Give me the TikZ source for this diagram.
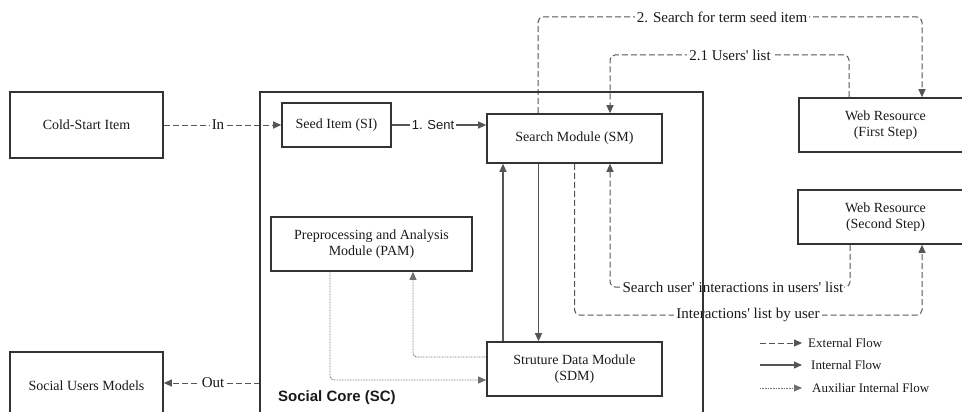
\documentclass[tikz,border=0pt]{standalone}
\usepackage{fontspec}
\setmainfont{Liberation Serif}[Ligatures=TeXOff]
\setsansfont{Liberation Sans}[Ligatures=TeXOff]
\usetikzlibrary{arrows.meta}
\definecolor{boxc}{HTML}{333333}
\definecolor{linec}{HTML}{555555}
\definecolor{txtc}{HTML}{1A1A1A}
\tikzset{
  mod/.style={draw=boxc, line width=1.6pt, rectangle, align=center, text=txtc,
    font=\fontsize{14}{15.5}\selectfont, inner sep=0pt},
  tip/.style={-{Triangle[length=8pt,width=7pt]}},
  ext/.style={draw=linec, line width=1pt, dash pattern=on 6pt off 3pt, rounded corners=5pt, tip},
  int/.style={draw=linec, line width=1.1pt, tip},
  aux/.style={draw=linec!85, line width=0.9pt, dash pattern=on 0.8pt off 0.8pt, rounded corners=4pt, tip},
  lbl/.style={fill=white, text=txtc, inner sep=2pt, font=\fontsize{15}{16}\selectfont},
  lgd/.style={anchor=west, text=txtc, inner sep=0pt, font=\fontsize{13}{14}\selectfont},
}
\begin{document}
\begin{tikzpicture}[x=1pt,y=-1pt]
\useasboundingbox (0,0) rectangle (962,412);
\clip (0,0) rectangle (962,412);
% nodes
\node[mod, minimum width=153pt, minimum height=66pt] (cold) at (86.5,125) {Cold-Start Item};
\node[mod, minimum width=153pt, minimum height=68pt] (sumod) at (86.5,386) {Social Users Models};
\node[mod, minimum width=109pt, minimum height=44pt] (si) at (336.5,125) {Seed Item (SI)};
\node[mod, minimum width=175pt, minimum height=49pt] (sm) at (574.5,138.5) {Search Module (SM)};
\node[mod, minimum width=173pt, minimum height=54pt] (wr1) at (885.5,125) {Web Resource\\(First Step)};
\node[mod, minimum width=175pt, minimum height=54pt] (wr2) at (885.5,217) {Web Resource\\(Second Step)};
\node[mod, minimum width=201pt, minimum height=54pt] (pam) at (371.5,244) {Preprocessing and Analysis\\Module (PAM)};
\node[mod, minimum width=175pt, minimum height=54pt] (sdm) at (574.5,369) {Struture Data Module\\(SDM)};
\node[inner sep=0pt, minimum width=443pt, minimum height=333pt] (sc) at (481.5,258.5) {};
\node[anchor=south west, inner sep=0pt, text=txtc, font=\sffamily\bfseries\fontsize{15}{16}\selectfont] (sclbl) at (278,405) {Social Core (SC)};
% coordinates for routes
\coordinate (top1) at (722,17);
\coordinate (top2) at (730,55);
\coordinate (bot1) at (748,315);
\coordinate (bot2) at (733,287);
% connectors
\draw[ext] (cold.east) -- (si.west);
\node[lbl] (lin) at (218,125) {In};
\draw[int] (si.east) -- (si.east -| sm.west);
\node[lbl, font=\sffamily\fontsize{13}{14}\selectfont] (lsent) at (433,125) {1. Sent};
\draw[ext] ([xshift=-36.5pt]sm.north) |- (top1) -| ([xshift=36.5pt]wr1.north);
\node[lbl] (l2) at (top1) {2. Search for term seed item};
\draw[ext] ([xshift=-36.5pt]wr1.north) |- (top2) -| ([xshift=35.5pt]sm.north);
\node[lbl] (l21) at (top2) {2.1 Users' list};
\draw[int] ([xshift=-36pt]sm.south) -- ([xshift=-36pt]sdm.north);
\draw[int] ([xshift=-71.5pt]sdm.north) -- ([xshift=-71.5pt]sm.south);
\draw[ext] (sm.south) |- (bot1) -| ([xshift=36.5pt]wr2.south);
\node[lbl] (lint) at (bot1) {Interactions' list by user};
\draw[ext] ([xshift=-35.5pt]wr2.south) |- (bot2) -| ([xshift=35.5pt]sm.south);
\node[lbl, inner xsep=1pt] (lsearch) at (bot2) {Search user' interactions in users' list};
\draw[aux] ([xshift=-41.5pt]pam.south) |- ([yshift=-11pt]sdm.west);
\draw[aux] ([yshift=12pt]sdm.west) -| ([xshift=41.5pt]pam.south);
\draw[ext] (sc.west |- 0,383) -- (sumod.east |- 0,383);
\node[lbl] (lout) at (213,383) {Out};
% social core box on top
\draw[boxc, line width=1.6pt] (sc.north west) rectangle (sc.south east);
% legend
\node[lgd] (lg1) at (808,343) {External Flow};
\node[lgd] (lg2) at (811,365) {Internal Flow};
\node[lgd] (lg3) at (812,388) {Auxiliar Internal Flow};
\coordinate (s1) at (760,343);
\coordinate (s2) at (760,365);
\coordinate (s3) at (760,388);
\draw[ext] (s1) -- ([xshift=-6pt]lg1.west);
\draw[int] (s2) -- ([xshift=-9pt]lg2.west);
\draw[aux] (s3) -- ([xshift=-10pt]lg3.west);
\end{tikzpicture}
\end{document}
